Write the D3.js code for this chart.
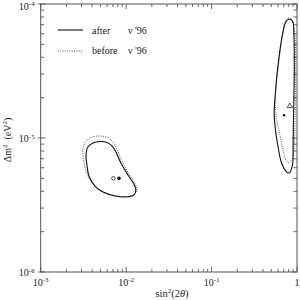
<html lang="en">
<head>
  <meta charset="UTF-8">
  <title>sin2 2theta vs dm2</title>
  <script src="https://d3js.org/d3.v7.min.js"></script>
  <style>
    body { margin: 0; background: white; }
    text { font-family: "Liberation Serif", "DejaVu Serif", serif; fill: #222; }
  </style>
</head>
<body>
  <svg class="plot" width="300" height="300"></svg>
  <script>
    // contours as [sin^2(2theta), dm^2 (eV^2)]
    const afterLow = [[0.00494,9.42e-6],[0.00596,9.26e-6],[0.00682,8.72e-6],[0.00760,7.86e-6],[0.00869,6.51e-6],
      [0.0105,5.30e-6],[0.0123,4.54e-6],[0.0130,4.09e-6],[0.0123,3.75e-6],[0.00995,3.63e-6],[0.00740,3.69e-6],
      [0.00535,3.95e-6],[0.00431,4.38e-6],[0.00367,5.20e-6],[0.00348,6.29e-6],[0.00339,7.46e-6],[0.00357,8.57e-6],
      [0.00409,9.18e-6]];
    const beforeLow = [[0.00494,1.035e-5],[0.00612,1.009e-5],[0.00701,9.33e-6],[0.00780,8.28e-6],[0.00893,6.73e-6],
      [0.0108,5.39e-6],[0.0127,4.54e-6],[0.0134,4.09e-6],[0.0123,3.79e-6],[0.00995,3.66e-6],[0.00740,3.72e-6],
      [0.00535,3.99e-6],[0.00420,4.46e-6],[0.00348,5.39e-6],[0.00321,6.62e-6],[0.00312,8.13e-6],[0.00339,9.50e-6],
      [0.00398,1.017e-5]];
    const afterHigh = [[0.808,7.73e-5],[0.886,7.46e-5],[0.918,6.08e-5],[0.930,3.39e-5],[0.918,1.92e-5],[0.905,1.147e-5],
      [0.900,8.57e-6],[0.886,6.29e-6],[0.808,5.48e-6],[0.740,5.67e-6],[0.659,6.51e-6],[0.600,8.57e-6],[0.560,1.147e-5],
      [0.540,1.54e-5],[0.550,1.92e-5],[0.596,3.39e-5],[0.682,6.08e-5],[0.740,7.34e-5]];
    const beforeHigh = [[0.787,7.86e-5],[0.869,7.60e-5],[0.943,6.08e-5],[0.955,3.39e-5],[0.955,1.92e-5],[0.943,1.147e-5],
      [0.918,8.13e-6],[0.869,6.85e-6],[0.802,6.51e-6],[0.740,6.85e-6],[0.688,8.13e-6],[0.613,1.147e-5],[0.565,1.54e-5],
      [0.557,1.92e-5],[0.604,3.39e-5],[0.682,6.08e-5],[0.730,7.46e-5]];
    // best-fit points
    const openCircle = [0.00710, 5.0e-6];
    const filledLow = [0.00824, 5.0e-6];
    const openTriangle = [0.824, 1.73e-5];
    const filledHigh = [0.706, 1.48e-5];

    const xMajor = [1e-3, 1e-2, 1e-1, 1];
    const xLabels = [["10", "-3"], ["10", "-2"], ["10", "-1"], ["1", ""]];
    const yMajor = [1e-6, 1e-5, 1e-4];
    const yLabels = [["10", "-6"], ["10", "-5"], ["10", "-4"]];

    const svg = d3.select('svg.plot');
    const x = d3.scaleLog().domain([1e-3, 1]).range([40.7, 297]);
    const y = d3.scaleLog().domain([1e-6, 1e-4]).range([272, 4]);
    const x0 = x(1e-3), x1 = x(1), y0 = y(1e-6), y1 = y(1e-4);

    const isMajor = v => Math.abs(Math.log10(v) - Math.round(Math.log10(v))) < 1e-6;
    const xTicks = x.ticks().filter(v => v > 1e-3 * 0.999 && v < 1.001);
    const yTicks = y.ticks();
    const ticks = svg.append('g').attr('stroke', '#555').attr('stroke-width', 0.9);

    xTicks.forEach(v => {
      const len = isMajor(v) ? 5 : 3;
      ticks.append('line').attr('x1', x(v)).attr('x2', x(v)).attr('y1', y0).attr('y2', y0 - len);
      ticks.append('line').attr('x1', x(v)).attr('x2', x(v)).attr('y1', y1).attr('y2', y1 + len);
    });
    yTicks.forEach(v => {
      const len = isMajor(v) ? 5 : 3.5;
      ticks.append('line').attr('y1', y(v)).attr('y2', y(v)).attr('x1', isMajor(v) ? x0 - 3 : x0).attr('x2', x0 + len);
      ticks.append('line').attr('y1', y(v)).attr('y2', y(v)).attr('x1', x1).attr('x2', x1 - len);
    });

    svg.append('rect').attr('x', x0).attr('y', y1).attr('width', x1 - x0).attr('height', y0 - y1)
      .attr('fill', 'none').attr('stroke', '#555').attr('stroke-width', 1);

    // tick labels
    xMajor.forEach((v, i) => {
      const t = svg.append('text').attr('x', x(v)).attr('y', y0 + 14).attr('text-anchor', 'middle')
        .attr('font-size', 10);
      t.append('tspan').text(xLabels[i][0]);
      t.append('tspan').attr('font-size', 7).attr('dy', -4).text(xLabels[i][1]);
    });
    yMajor.forEach((v, i) => {
      const t = svg.append('text').attr('x', x0 - 6).attr('y', Math.max(y(v) + 4, 9.5)).attr('text-anchor', 'end')
        .attr('font-size', 10);
      t.append('tspan').text(yLabels[i][0]);
      t.append('tspan').attr('font-size', 7).attr('dy', -3.5).text(yLabels[i][1]);
    });

    // axis titles
    const xt = svg.append('text').attr('x', 172).attr('y', 297).attr('text-anchor', 'middle').attr('font-size', 10.5);
    xt.append('tspan').text('sin');
    xt.append('tspan').attr('font-size', 7).attr('dy', -4).text('2');
    xt.append('tspan').attr('dy', 4).text('(2');
    xt.append('tspan').attr('font-style', 'italic').text('θ');
    xt.append('tspan').text(')');

    const yt = svg.append('text').attr('transform', 'translate(11,140) rotate(-90)')
      .attr('text-anchor', 'middle').attr('font-size', 10);
    yt.append('tspan').text('Δm');
    yt.append('tspan').attr('font-size', 7).attr('dy', -4).text('2');
    yt.append('tspan').attr('dy', 4).text('\u00a0\u00a0(eV');
    yt.append('tspan').attr('font-size', 7).attr('dy', -4).text('2');
    yt.append('tspan').attr('dy', 4).text(')');

    // contours
    const line = d3.line().x(d => x(d[0])).y(d => y(d[1])).curve(d3.curveCatmullRomClosed);
    [beforeLow, beforeHigh].forEach(c => {
      svg.append('path').attr('d', line(c)).attr('fill', 'none').attr('stroke', '#444')
        .attr('stroke-width', 0.9).attr('stroke-dasharray', '1,1.3');
    });
    [afterLow, afterHigh].forEach(c => {
      svg.append('path').attr('d', line(c)).attr('fill', 'none').attr('stroke', '#111').attr('stroke-width', 1.1);
    });

    // markers
    svg.append('circle').attr('cx', x(openCircle[0])).attr('cy', y(openCircle[1])).attr('r', 1.8)
      .attr('fill', 'white').attr('stroke', '#222').attr('stroke-width', 0.8);
    svg.append('circle').attr('cx', x(filledLow[0])).attr('cy', y(filledLow[1])).attr('r', 1.8).attr('fill', '#111');
    svg.append('circle').attr('cx', x(filledHigh[0])).attr('cy', y(filledHigh[1])).attr('r', 1.2).attr('fill', '#111');
    svg.append('path').attr('d', d3.symbol().type(d3.symbolTriangle).size(12)())
      .attr('transform', `translate(${x(openTriangle[0])},${y(openTriangle[1])})`)
      .attr('fill', 'none').attr('stroke', '#222').attr('stroke-width', 0.8);

    // legend
    const leg = svg.append('g');
    leg.append('line').attr('x1', 58).attr('x2', 83).attr('y1', 30).attr('y2', 30)
      .attr('stroke', '#111').attr('stroke-width', 1.1);
    leg.append('line').attr('x1', 58).attr('x2', 83).attr('y1', 51).attr('y2', 51)
      .attr('stroke', '#444').attr('stroke-width', 0.9).attr('stroke-dasharray', '1,1.3');
    leg.append('text').attr('x', 92).attr('y', 33.5).attr('font-size', 10).text('after');
    leg.append('text').attr('x', 92).attr('y', 54).attr('font-size', 10).text('before');
    leg.append('text').attr('x', 128).attr('y', 33.5).attr('font-size', 10).text("ν '96");
    leg.append('text').attr('x', 128).attr('y', 54).attr('font-size', 10).text("ν '96");
  </script>
</body>
</html>
